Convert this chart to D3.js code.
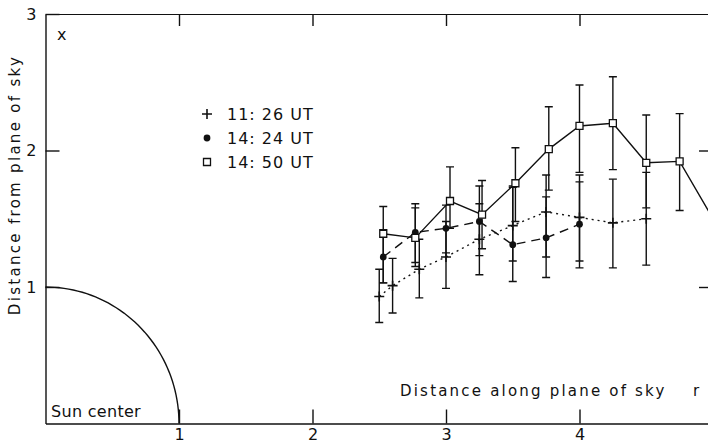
<!DOCTYPE html>
<html>
<head>
<meta charset="utf-8">
<script src="https://cdn.jsdelivr.net/npm/d3@7"></script>
<style>
  body { margin: 0; background: #fff; }
  text { font-family: "DejaVu Sans", sans-serif; fill: #111; }
  .axis path, .axis line { stroke: #111; stroke-width: 1.4; }
  .axis text { font-size: 16px; }
</style>
</head>
<body>
<div id="chart"></div>
<script>
// DATA
var xTicks = [1, 2, 3, 4]
var yTicks = [1, 2, 3]

// 11:26 UT  (+, dotted)
var x1126 = [2.5, 2.6, 2.8, 3.0, 3.25, 3.5, 3.75, 4.0, 4.25, 4.5]
var y1126 = [0.93, 1.01, 1.13, 1.22, 1.35, 1.45, 1.55, 1.51, 1.47, 1.50]
var lo1126 = [0.74, 0.81, 0.92, 0.99, 1.09, 1.19, 1.22, 1.19, 1.14, 1.16]
var hi1126 = [1.13, 1.21, 1.35, 1.48, 1.74, 1.74, 1.82, 1.82, 1.79, 1.84]

// 14:24 UT  (filled circle, dashed)
var x1424 = [2.53, 2.77, 3.0, 3.25, 3.5, 3.75, 4.0]
var y1424 = [1.22, 1.40, 1.43, 1.48, 1.31, 1.36, 1.46]
var lo1424 = [1.03, 1.18, 1.25, 1.23, 1.04, 1.07, 1.14]
var hi1424 = [1.42, 1.61, 1.60, 1.61, 1.73, 1.66, 1.77]

// 14:50 UT  (open square, solid)
var x1450 = [2.53, 2.77, 3.03, 3.27, 3.52, 3.77, 4.0, 4.25, 4.5, 4.75, 5.0]
var y1450 = [1.39, 1.36, 1.63, 1.53, 1.76, 2.01, 2.18, 2.20, 1.91, 1.92, 1.50]
var lo1450 = [1.03, 1.15, 1.43, 1.28, 1.48, 1.71, 1.84, 1.86, 1.58, 1.56, 1.20]
var hi1450 = [1.59, 1.58, 1.88, 1.78, 2.02, 2.32, 2.48, 2.54, 2.26, 2.27, 1.80]

var legendLabels = ["11: 26 UT", "14: 24 UT", "14: 50 UT"]

var width = 708, height = 444
var margin = {top: 14, left: 45.5, bottom: 20.5}

var x = d3.scaleLinear().domain([0, 5]).range([margin.left, margin.left + 5 * 133.5])
var y = d3.scaleLinear().domain([0, 3]).range([height - margin.bottom, margin.top])

var svg = d3.select("#chart").append("svg")
  .attr("width", width)
  .attr("height", height)

svg.append("clipPath").attr("id", "clip")
  .append("rect")
    .attr("x", x(0)).attr("y", y(3) - 2)
    .attr("width", x(5) - x(0)).attr("height", y(0) - y(3) + 4)

// AXES
var fmt = d3.format("d")

svg.append("g").attr("class", "axis")
  .attr("transform", "translate(0," + y(0) + ")")
  .call(d3.axisBottom(x).tickValues(xTicks).tickSize(-14).tickPadding(5).tickFormat(fmt).tickSizeOuter(0))

svg.append("g").attr("class", "axis")
  .attr("transform", "translate(0," + y(3) + ")")
  .call(d3.axisTop(x).tickValues(xTicks).tickSize(-12).tickFormat("").tickSizeOuter(0))
  .select("path").style("stroke-width", 1)

svg.append("g").attr("class", "axis")
  .attr("transform", "translate(" + x(0) + ",0)")
  .call(d3.axisLeft(y).tickValues(yTicks).tickSize(-14).tickPadding(9).tickFormat(fmt).tickSizeOuter(0))

svg.append("g").attr("class", "axis")
  .attr("transform", "translate(" + x(5) + ",0)")
  .call(d3.axisRight(y).tickValues([1, 2]).tickSize(-14).tickFormat("").tickSizeOuter(0))

// SUN LIMB
var limb = d3.range(0, 91, 2).map(a => [Math.cos(a * Math.PI / 180), Math.sin(a * Math.PI / 180)])
svg.append("path")
  .attr("d", d3.line().x(d => x(d[0])).y(d => y(d[1]))(limb))
  .attr("fill", "none").attr("stroke", "#111").attr("stroke-width", 1.4)

// SERIES
var series = [
  {xs: x1126, ys: y1126, lo: lo1126, hi: hi1126, dash: "2,4", mark: "plus"},
  {xs: x1424, ys: y1424, lo: lo1424, hi: hi1424, dash: "9,6", mark: "dot"},
  {xs: x1450, ys: y1450, lo: lo1450, hi: hi1450, dash: null, mark: "square"}
]

var plot = svg.append("g").attr("clip-path", "url(#clip)")

series.forEach(function(s) {
  var pts = s.xs.map((v, i) => ({x: v, y: s.ys[i], lo: s.lo[i], hi: s.hi[i]}))

  var bars = plot.append("g").selectAll("g").data(pts).enter().append("g")
  bars.append("line")
    .attr("x1", d => x(d.x)).attr("x2", d => x(d.x))
    .attr("y1", d => y(d.lo)).attr("y2", d => y(d.hi))
    .attr("stroke", "#111").attr("stroke-width", 1.4)
  ;["lo", "hi"].forEach(function(k) {
    bars.append("line")
      .attr("x1", d => x(d.x) - 4).attr("x2", d => x(d.x) + 4)
      .attr("y1", d => y(d[k])).attr("y2", d => y(d[k]))
      .attr("stroke", "#111").attr("stroke-width", 1.4)
  })

  plot.append("path")
    .attr("d", d3.line().x(d => x(d.x)).y(d => y(d.y))(pts))
    .attr("fill", "none").attr("stroke", "#111").attr("stroke-width", 1.4)
    .attr("stroke-dasharray", s.dash)

  drawMarks(plot, pts.map(d => [x(d.x), y(d.y)]), s.mark)
})

function drawMarks(g, xy, mark) {
  var sel = g.append("g").selectAll("path").data(xy).enter().append("path")
  if (mark == "plus") {
    sel.attr("d", d => "M" + (d[0] - 5) + "," + d[1] + "h10M" + d[0] + "," + (d[1] - 5) + "v10")
      .attr("stroke", "#111").attr("stroke-width", 1.6).attr("fill", "none")
  } else if (mark == "dot") {
    sel.attr("d", d3.symbol().type(d3.symbolCircle).size(36))
      .attr("transform", d => "translate(" + d[0] + "," + d[1] + ")")
      .attr("fill", "#111")
  } else {
    sel.attr("d", d => "M" + (d[0] - 3.5) + "," + (d[1] - 3.5) + "h7v7h-7z")
      .attr("stroke", "#111").attr("stroke-width", 1.3).attr("fill", "#fff")
  }
}

// LEGEND
var legendY = [114, 138, 162]
var legendMarks = ["plus", "dot", "square"]
legendMarks.forEach(function(m, i) {
  var lg = svg.append("g")
  drawMarks(lg, [[207, legendY[i]]], m)
  lg.append("text")
    .attr("x", 227).attr("y", legendY[i] + 6)
    .style("font-size", "16px").style("letter-spacing", "1px")
    .text(legendLabels[i])
})

// LABELS
svg.append("text").attr("x", 57).attr("y", 40).style("font-size", "16px").text("x")

svg.append("text").attr("x", 51).attr("y", 417)
  .style("font-size", "16px").style("letter-spacing", "0.3px").text("Sun center")

svg.append("text").attr("x", 400).attr("y", 396)
  .style("font-size", "15px").style("letter-spacing", "2.2px").text("Distance along plane of sky")
svg.append("text").attr("x", 693).attr("y", 396)
  .style("font-size", "15px").text("r")

svg.append("text")
  .attr("transform", "translate(20," + 185 + ") rotate(-90)")
  .attr("text-anchor", "middle")
  .style("font-size", "15px").style("letter-spacing", "2.3px")
  .text("Distance from plane of sky")
</script>
</body>
</html>
